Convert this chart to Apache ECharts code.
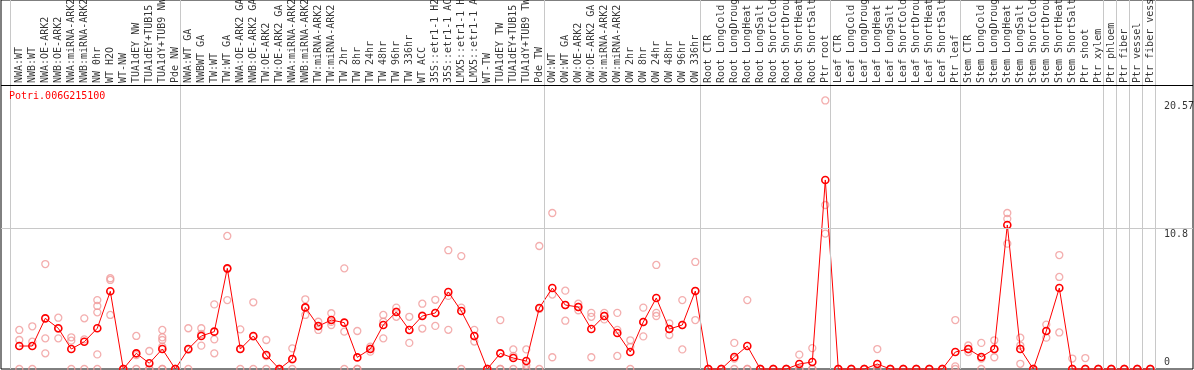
<!DOCTYPE html>
<html><head><meta charset="utf-8">
<script src="https://cdn.jsdelivr.net/npm/echarts@6/dist/echarts.min.js"></script>
<style>html,body{margin:0;padding:0;background:#fff}#c{width:1194px;height:370px}</style>
</head><body><div id="c"></div>
<script>
const title = 'Potri.006G215100';
const categories = [
 'NWA:WT','NWB:WT','NWA:OE-ARK2','NWB:OE-ARK2','NWA:miRNA-ARK2','NWB:miRNA-ARK2','NW 0hr','WT H2O','WT-NW',
 'TUA1dEY NW','TUA1dEY+TUB15','TUA1dY+TUB9 NW','Pde NW',
 'NWA:WT GA','NWBWT GA','TW:WT','TW:WT GA','NWA:OE-ARK2 GA','NWB:OE-ARK2 GA','TW:OE-ARK2','TW:OE-ARK2 GA',
 'NWA:miRNA-ARK2','NWB:miRNA-ARK2','TW:miRNA-ARK2','TW:miRNA-ARK2','TW 2hr','TW 8hr','TW 24hr','TW 48hr','TW 96hr','TW 336hr',
 'WT ACC','35S::etr1-1 H2','35S::etr1-1 AC','LMX5::etr1-1 H','LMX5::etr1-1 A','WT-TW','TUA1dEY TW','TUA1dEY+TUB15','TUA1dY+TUB9 TW','Pde TW',
 'OW:WT','OW:WT GA','OW:OE-ARK2','OW:OE-ARK2 GA','OW:miRNA-ARK2','OW:miRNA-ARK2','OW 2hr','OW 8hr','OW 24hr','OW 48hr','OW 96hr','OW 336hr',
 'Root CTR','Root LongCold','Root LongDroug','Root LongHeat','Root LongSalt','Root ShortCold','Root ShortDrou','Root ShortHeat','Root ShortSalt','Ptr root',
 'Leaf CTR','Leaf LongCold','Leaf LongDroug','Leaf LongHeat','Leaf LongSalt','Leaf ShortCold','Leaf ShortDrou','Leaf ShortHeat','Leaf ShortSalt','Ptr leaf',
 'Stem CTR','Stem LongCold','Stem LongDroug','Stem LongHeat','Stem LongSalt','Stem ShortCold','Stem ShortDrou','Stem ShortHeat','Stem ShortSalt',
 'Ptr shoot','Ptr xylem','Ptr phloem','Ptr fiber','Ptr vessel','Ptr fiber vess'
];
const means = [
 1.76,1.76,3.88,3.12,1.53,2.09,3.12,5.95,0,
 1.2,0.44,1.53,0,
 1.53,2.53,2.86,7.71,1.53,2.53,1.07,0,
 0.77,4.72,3.29,3.75,3.55,0.89,1.53,3.37,4.37,2.99,
 4.06,4.29,5.9,4.44,2.53,0,1.2,0.84,0.61,4.67,
 6.2,4.9,4.75,3.06,4.06,2.76,1.3,3.6,5.44,3.06,3.37,5.97,
 0,0,0.92,1.76,0,0,0,0.38,0.54,14.48,
 0,0,0,0.38,0,0,0,0,0,1.3,
 1.53,0.92,1.53,11.03,1.53,0,2.91,6.2,0,
 0,0,0,0,0,0
];
const replicates = [
 [2.99,2.22,0],[3.27,2.09,0],[8.04,2.35,1.2],[3.93,3.08,2.35],[2.43,2.17,0],[3.88,2.27,0],[5.28,4.83,4.34,1.12,0],[6.95,6.82,4.14],[0,0,0],
 [2.53,1.07,0],[1.38,0,0],[2.99,2.43,2.22,1.71,0,0],[0,0,0],
 [3.12,1.47,0],[3.12,2.68,1.79],[4.95,2.27,1.2],[10.19,7.66,5.28],[3.04,1.55,0],[5.11,2.48,0],[2.22,0.99,0],[0,0,0],
 [1.58,0.73,0],[5.34,4.68,4.14],[3.62,3.26,2.99],[4.27,3.61,3.37],[7.71,2.86,0],[2.91,0,0],[1.71,1.55,1.33],[4.14,3.62,2.35],[4.7,4.4,4.0],[4.0,3.0,2.0],
 [5.0,4.1,3.1],[5.3,4.3,3.3],[9.1,5.6,3.0],[8.65,4.7,0],[3.0,2.5,2.1],[0,0,0],[3.75,0,0],[1.5,1.0,0],[1.5,0.3,0],[9.42,4.6,0],
 [11.95,5.7,0.9],[6.0,4.9,3.7],[5.0,4.75,4.5],[4.3,4.0,0.9],[4.3,4.06,3.8],[4.3,3.0,1.0],[2.2,1.7,0],[4.7,3.6,2.5],[7.97,4.3,4.06],[3.5,3.06,2.6],[5.28,3.37,1.5],[8.2,5.97,3.75],
 [0,0,0],[0,0,0],[2.0,0.8,0],[5.28,0,0],[0,0,0],[0,0,0],[0,0,0],[1.1,0,0],[1.6,0,0],[20.57,12.56,10.37],
 [0,0,0],[0,0,0],[0,0,0],[1.53,0,0],[0,0,0],[0,0,0],[0,0,0],[0,0,0],[0,0,0],[3.75,0.2,0],
 [1.8,1.5,1.3],[2.0,0.8,0],[2.2,1.5,0.9],[11.95,11.5,9.6],[2.4,1.8,0.4],[0,0,0],[3.4,2.9,2.4],[8.73,7.05,2.8],[0.8,0,0],
 [0.84,0,0],[0,0,0],[0,0,0],[0,0,0],[0,0,0],[0,0,0]
];
const groupEnds = [12, 40, 52, 62, 72, 83, 84, 85, 86, 87];
const yTickValues = [0, 10.8, 20.57];
const yTickLabels = ['0', '10.8', '20.57'];
const yAxisTop = 21.6;

// layout (pixels)
const W = 1194, H = 370;
const gridLeft = 1, gridRight = 1, bottomPx = 369, plotTopPx = 87;
const firstCatPx = 19.3, catStep = 13;
const pxPerUnitY = (bottomPx - plotTopPx) / yAxisTop;
const yMax = bottomPx / pxPerUnitY;
const xMin = (gridLeft - firstCatPx) / catStep;
const xMax = xMin + (W - gridLeft - gridRight) / catStep;
const pxToX = px => (px - firstCatPx) / catStep;
const pxToY = py => (bottomPx - py) / pxPerUnitY;

const font = "'DejaVu Sans Mono', monospace";
const repData = [];
replicates.forEach((arr, i) => arr.forEach(v => repData.push([i, v])));

const sepLines = [{xAxis: pxToX(10)}].concat(groupEnds.map(g => ({xAxis: g + 5 / catStep})));

const chart = echarts.init(document.getElementById('c'), null, {renderer: 'canvas'});
chart.setOption({
  animation: false,
  backgroundColor: '#fff',
  title: {text: title, left: 9, top: 91, padding: 0, textStyle: {color: '#ff0000', fontFamily: font, fontSize: 10, fontWeight: 'normal'}},
  grid: {left: gridLeft, right: gridRight, top: 0, bottom: H - bottomPx, show: true, borderColor: '#000', borderWidth: 1, backgroundColor: 'transparent'},
  xAxis: {type: 'value', min: xMin, max: xMax, show: false},
  yAxis: {type: 'value', min: 0, max: yMax, show: false},
  series: [
    {
      type: 'scatter', name: 'replicates', data: repData, symbol: 'circle', symbolSize: 7,
      itemStyle: {color: 'rgba(0,0,0,0)', borderColor: '#f09a9a', borderWidth: 1.3},
      z: 2, silent: true, clip: false,
      markLine: {
        silent: true, symbol: 'none', animation: false,
        label: {show: false},
        lineStyle: {color: '#c8c8c8', width: 1, type: 'solid'},
        data: sepLines.concat([
          {yAxis: 10.8},
          {yAxis: pxToY(85), lineStyle: {color: '#000', width: 1, type: 'solid'}}
        ])
      }
    },
    {
      type: 'line', name: 'mean', data: means.map((v, i) => [i, v]),
      symbol: 'circle', symbolSize: 7, showAllSymbol: true, clip: false,
      lineStyle: {color: '#ff0000', width: 1},
      itemStyle: {color: 'rgba(0,0,0,0)', borderColor: '#ff0000', borderWidth: 1.6},
      z: 3, silent: true
    },
    {
      type: 'scatter', name: 'categoryLabels', silent: true, z: 4,
      data: categories.map((c, i) => [i, pxToY(83), c]),
      symbol: 'circle', symbolSize: 1, itemStyle: {color: 'rgba(0,0,0,0)'},
      label: {show: true, position: 'inside', rotate: 90, align: 'left', verticalAlign: 'middle',
        formatter: p => p.data[2].slice(0, 14), color: '#000', fontFamily: font, fontSize: 10}
    },
    {
      type: 'scatter', name: 'yTicks', silent: true, z: 4,
      data: yTickValues.map((v, k) => ({
        value: [pxToX(1164), v],
        label: {verticalAlign: v === 0 ? 'bottom' : 'top', offset: [0, v === 0 ? -2 : 1], formatter: yTickLabels[k]}
      })),
      symbol: 'circle', symbolSize: 1, itemStyle: {color: 'rgba(0,0,0,0)'},
      label: {show: true, position: 'inside', align: 'left', color: '#000', fontFamily: font, fontSize: 10}
    }
  ]
});
</script></body></html>
